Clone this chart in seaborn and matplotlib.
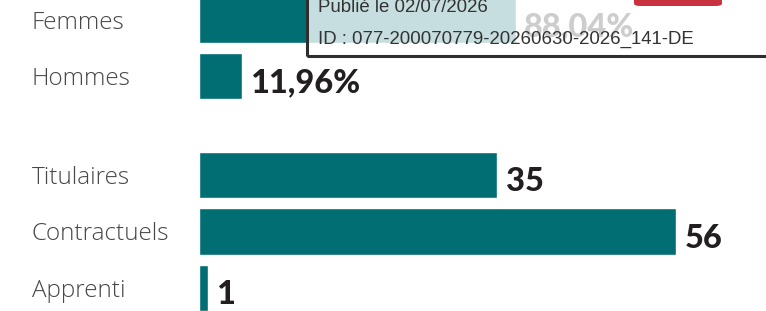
import matplotlib
matplotlib.use("Agg")
import matplotlib.pyplot as plt
import matplotlib.patches as mpatches
import pandas as pd
import seaborn as sns

# data
genre_cats = ["Femmes", "Hommes"]
genre_vals = [88.04, 11.96]
genre_labels = ["88,04%", "11,96%"]

statut_cats = ["Titulaires", "Contractuels", "Apprenti"]
statut_vals = [35, 56, 1]
statut_labels = ["35", "56", "1"]

stamp_line1 = "Publié le 02/07/2026"
stamp_line2 = "ID : 077-200070779-20260630-2026_141-DE"

teal = "#006e73"
W, H = 766, 311

sns.set_theme(style="white")
plt.rcParams["font.family"] = ["Lato", "DejaVu Sans"]

fig = plt.figure(figsize=(W / 100, H / 100), dpi=100)

def px_axes(left, top, right, bottom):
    return fig.add_axes([left / W, 1 - bottom / H, (right - left) / W, (bottom - top) / H])

# top group: centres at 20 and 76 px
ax1 = px_axes(199, -8, 766, 104)
# bottom group: centres at 175, 231.5, 288 px
ax2 = px_axes(199, 146.75, 766, 316.25)

df1 = pd.DataFrame({"cat": genre_cats, "val": genre_vals})
df2 = pd.DataFrame({"cat": statut_cats, "val": statut_vals})

sns.barplot(data=df1, x="val", y="cat", color=teal, saturation=1, width=0.82, ax=ax1)
sns.barplot(data=df2, x="val", y="cat", color=teal, saturation=1, width=0.82, ax=ax2)

ax1.set_xlim(0, 567 / 3.6)
ax2.set_xlim(0, 567 / 8.52)

for ax, labs in [(ax1, genre_labels), (ax2, statut_labels)]:
    anns = ax.bar_label(ax.containers[0], labels=labs, padding=6, fontsize=23.5,
                        fontweight="black", color="#231f20")
    for a in anns:
        a.xyann = (6, -5)
    sns.despine(ax=ax, left=True, bottom=True)
    ax.set_xlabel("")
    ax.set_ylabel("")
    ax.set_xticks([])
    ax.tick_params(axis="y", length=0, pad=120.5, labelsize=17.5, labelcolor="#474747")
    for t in ax.get_yticklabels():
        t.set_horizontalalignment("left")
        t.set_family(["Open Sans", "DejaVu Sans"])
        t.set_fontweight("light")
    ax.set_facecolor("none")

# stamp overlay
box = mpatches.Rectangle((306.5 / W, 1 - 55.5 / H), 1, 1, transform=fig.transFigure,
                         facecolor="white", alpha=0.78, edgecolor="none", zorder=5)
fig.add_artist(box)
border = mpatches.Rectangle((306.5 / W, 1 - 55.5 / H), 1, 1, transform=fig.transFigure,
                            facecolor="none", edgecolor="#2e2e2e", linewidth=2.2, zorder=6)
fig.add_artist(border)
red = mpatches.FancyBboxPatch((634 / W, 1 - 6 / H), 88 / W, 20 / H, transform=fig.transFigure,
                              boxstyle="round,pad=0,rounding_size=0.008",
                              facecolor="#c8323f", edgecolor="none", zorder=6)
fig.add_artist(red)

fig.text(318 / W, 1 - 7 / H, stamp_line1, family=["Liberation Sans", "DejaVu Sans"],
         fontsize=13.4, color="#333333", va="center", ha="left", zorder=7)
fig.text(318 / W, 1 - 39 / H, stamp_line2, family=["Liberation Sans", "DejaVu Sans"],
         fontsize=13.4, color="#333333", va="center", ha="left", zorder=7)

fig.savefig("out.png", dpi=100)
